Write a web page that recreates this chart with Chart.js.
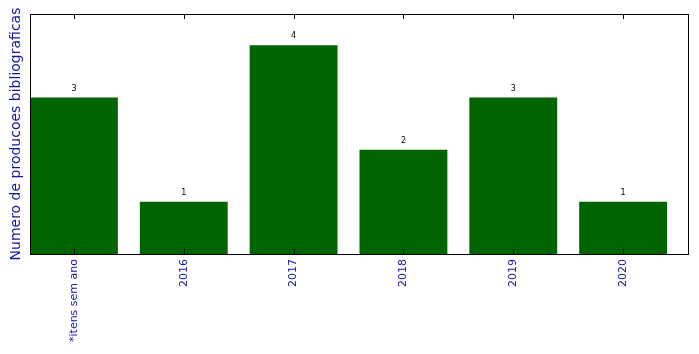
<!DOCTYPE html>
<html>
<head>
<meta charset="utf-8">
<script src="https://cdn.jsdelivr.net/npm/chart.js@4/dist/chart.umd.min.js"></script>
<style>
html,body{margin:0;padding:0;background:#fff;}
#wrap{width:699px;height:354px;position:relative;}
</style>
</head>
<body>
<div id="wrap"><canvas id="c" width="699" height="354"></canvas></div>
<script>
const categories = ["*itens sem ano", "2016", "2017", "2018", "2019", "2020"];
const counts = [3, 1, 4, 2, 3, 1];
const yAxisTitle = "Numero de producoes bibliograficas";

const FONT = "'DejaVu Sans', sans-serif";
const BLUE = "#1414a8";

const framePlugin = {
  id: 'frame',
  afterDatasetsDraw(chart) {
    const {ctx, chartArea: a, scales} = chart;
    const xs = scales.x;
    ctx.save();
    ctx.fillStyle = '#000';
    ctx.font = "8px " + FONT;
    ctx.textAlign = 'center';
    ctx.textBaseline = 'bottom';
    const meta = chart.getDatasetMeta(0);
    meta.data.forEach((bar, i) => {
      ctx.fillText(String(counts[i]), bar.x, bar.y - 5);
    });
    ctx.strokeStyle = '#000';
    ctx.lineWidth = 1;
    ctx.strokeRect(Math.round(a.left) + 0.5, Math.round(a.top) + 0.5, Math.round(a.right - a.left) - 1, Math.round(a.bottom - a.top));
    categories.forEach((c, i) => {
      const x = Math.round(xs.getPixelForValue(i)) + 0.5;
      ctx.beginPath();
      ctx.moveTo(x, a.bottom);
      ctx.lineTo(x, a.bottom - 5);
      ctx.moveTo(x, a.top);
      ctx.lineTo(x, a.top + 5);
      ctx.stroke();
    });
    ctx.restore();
  }
};

new Chart(document.getElementById('c'), {
  type: 'bar',
  data: {
    datasets: [{
      data: categories.map((c, i) => ({x: i, y: counts[i]})),
      backgroundColor: '#006400',
      borderWidth: 0,
      categoryPercentage: 1.0,
      barPercentage: 0.8
    }]
  },
  options: {
    responsive: false,
    animation: false,
    devicePixelRatio: 1,
    layout: {padding: {top: 14, right: 10, bottom: 0, left: 0}},
    plugins: {legend: {display: false}, tooltip: {enabled: false}},
    scales: {
      x: {
        type: 'linear',
        min: -0.4,
        max: 5.6,
        offset: false,
        grid: {display: false, drawTicks: false},
        border: {display: false},
        afterBuildTicks(scale) {
          scale.ticks = categories.map((c, i) => ({value: i}));
        },
        afterFit(scale) { scale.height = 100; },
        ticks: {
          autoSkip: false,
          minRotation: 90,
          maxRotation: 90,
          padding: 5,
          color: BLUE,
          font: {family: FONT, size: 11},
          callback: (v) => categories[v] ?? ''
        }
      },
      y: {
        min: 0,
        max: 4.6,
        grid: {display: false, drawTicks: false},
        border: {display: false},
        ticks: {display: false},
        afterFit(scale) { scale.width = 30; },
        title: {
          display: true,
          text: yAxisTitle,
          color: BLUE,
          font: {family: FONT, size: 14},
          padding: {top: 8, bottom: 0}
        }
      }
    }
  },
  plugins: [framePlugin]
});
</script>
</body>
</html>
